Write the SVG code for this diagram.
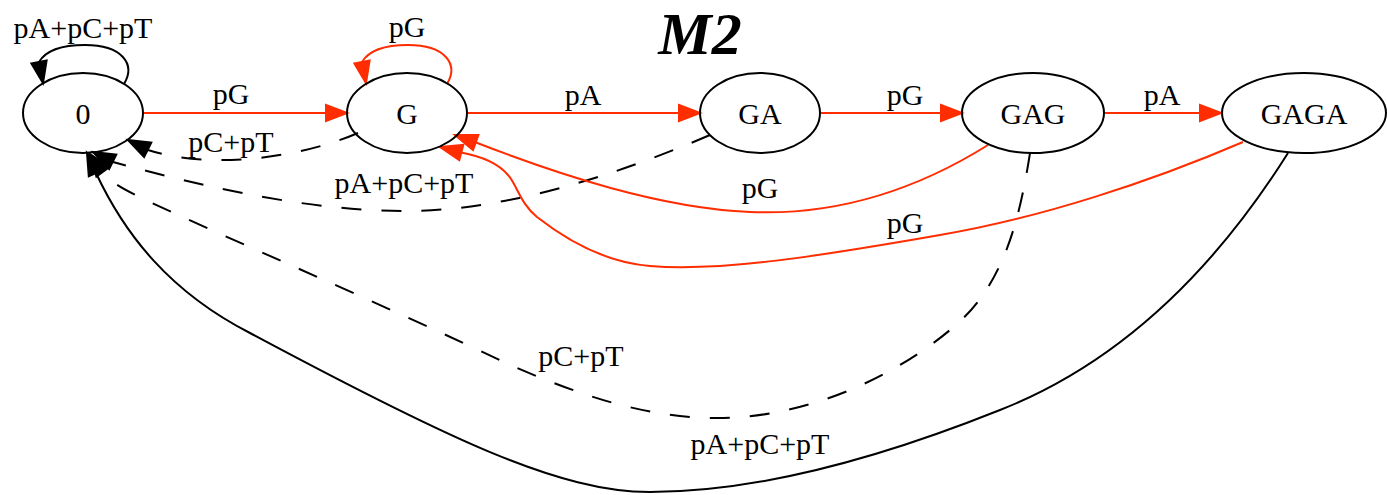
<svg xmlns="http://www.w3.org/2000/svg" width="1387" height="495" viewBox="0 0 1387 495">
  <style>
    .node ellipse { fill: none; stroke: #000; stroke-width: 2; }
    text { font-family: "Liberation Serif", "Times New Roman", serif; font-size: 30px; fill: #000; text-anchor: middle; }
    .title { font-size: 60px; font-weight: bold; font-style: italic; }
    .e { fill: none; stroke-width: 2; }
    .red { stroke: #ff2d00; }
    .blk { stroke: #000; }
    .dash { stroke-dasharray: 20 20; }
    .ah-red { fill: #ff2d00; stroke: #ff2d00; stroke-width: 2; }
    .ah-blk { fill: #000; stroke: #000; stroke-width: 2; }
  </style>
  <rect width="1387" height="495" fill="#fff"/>

  <text class="title" x="700" y="54">M2</text>

  <g id="edges">
    <!-- 0 -> 0 -->
    <path class="e blk" d="M124,84 C136,64 122,45 85,45 C62,45 46,50 39,62"/>
    <polygon class="ah-blk" points="43,83 46.6,60.5 31.4,63.5"/>
    <text x="83" y="38">pA+pC+pT</text>

    <!-- 0 -> G -->
    <path class="e red" d="M143,113 L326,113"/>
    <polygon class="ah-red" points="347,113 326,105 326,121"/>
    <text x="231" y="104">pG</text>

    <!-- G -> G -->
    <path class="e red" d="M447,84 C459,64 445,45 408,45 C385,45 369,50 362,62"/>
    <polygon class="ah-red" points="366,83 369.6,60.5 354.4,63.5"/>
    <text x="407" y="37">pG</text>

    <!-- G -> GA -->
    <path class="e red" d="M467,113 L679,113"/>
    <polygon class="ah-red" points="700,113 679,105 679,121"/>
    <text x="583" y="105">pA</text>

    <!-- GA -> GAG -->
    <path class="e red" d="M820,113 L941,113"/>
    <polygon class="ah-red" points="962,113 941,105 941,121"/>
    <text x="905" y="105">pG</text>

    <!-- GAG -> GAGA -->
    <path class="e red" d="M1104,113 L1200,113"/>
    <polygon class="ah-red" points="1221,113 1200,105 1200,121"/>
    <text x="1162" y="105">pA</text>

    <!-- G -> 0 -->
    <path class="e blk dash" d="M358,133 C300,158 210,170 148,150"/>
    <polygon class="ah-blk" points="128,140 151.3,142.7 144.1,157"/>
    <text x="231" y="152">pC+pT</text>

    <!-- GA -> 0 -->
    <path class="e blk dash" d="M710,135 C640,165 520,210 410,211 C300,212 180,180 113,162"/>
    <polygon class="ah-blk" points="93,152 116.3,154.7 109.1,169"/>
    <text x="404" y="193">pA+pC+pT</text>

    <!-- GAG -> G -->
    <path class="e red" d="M988,145 C900,200 820,215 750,212 C660,208 560,175 476,142.5"/>
    <polygon class="ah-red" points="455,135 478.4,135 473,150"/>
    <text x="760" y="198">pG</text>

    <!-- GAGA -> G -->
    <path class="e red" d="M1243,142 C1150,182 1040,218 940,235 C820,256 720,272 650,266 C600,262 560,235 537,217 C520,203 517,185 508,175 C498,163 480,156 461,152.5"/>
    <polygon class="ah-red" points="440,147 463.3,144.8 459.3,160.2"/>
    <text x="905" y="233">pG</text>

    <!-- GAG -> 0 -->
    <path class="e blk dash" d="M1030,153 C1018,230 1000,290 950,330 C890,380 800,420 710,418 C640,416 580,395 510,365 C380,303 220,235 150,202 C125,190 112,184 103,172"/>
    <polygon class="ah-blk" points="90,154 109.4,167.1 96.4,176.5"/>
    <text x="581" y="366">pC+pT</text>

    <!-- GAGA -> 0 -->
    <path class="e blk" d="M1288,153 C1230,245 1140,355 1000,410 C880,458 760,492 650,492 C560,492 450,440 250,333 C170,292 125,235 96,173"/>
    <polygon class="ah-blk" points="87,153 103.4,169.7 88.8,176.3"/>
    <text x="760" y="454">pA+pC+pT</text>
  </g>

  <g id="node-0" class="node">
    <ellipse cx="83" cy="113" rx="60" ry="40"/>
    <text x="83" y="124">0</text>
  </g>
  <g id="node-G" class="node">
    <ellipse cx="407" cy="113" rx="60" ry="40"/>
    <text x="407" y="124">G</text>
  </g>
  <g id="node-GA" class="node">
    <ellipse cx="760" cy="113" rx="60" ry="40"/>
    <text x="760" y="124">GA</text>
  </g>
  <g id="node-GAG" class="node">
    <ellipse cx="1033" cy="113" rx="71" ry="40"/>
    <text x="1033" y="124">GAG</text>
  </g>
  <g id="node-GAGA" class="node">
    <ellipse cx="1304" cy="113" rx="82" ry="40"/>
    <text x="1304" y="124">GAGA</text>
  </g>
</svg>
